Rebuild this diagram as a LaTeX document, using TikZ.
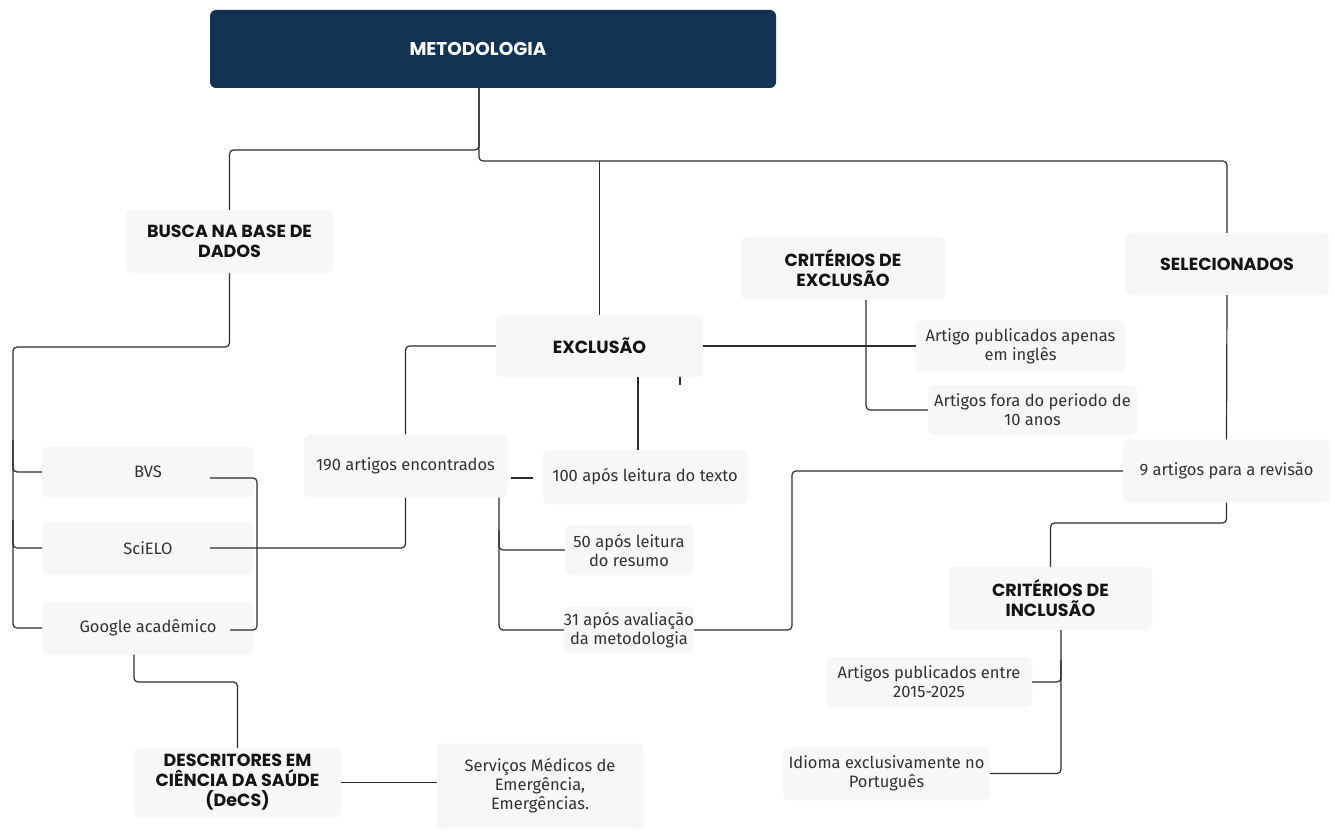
\documentclass[tikz,border=0pt]{standalone}
\usepackage{fontspec}
\newfontfamily\headfont{Poppins}
\newfontfamily\bodyfont{Fira Sans}
\definecolor{navy}{RGB}{17,50,82}
\definecolor{boxc}{RGB}{247,247,247}
\definecolor{linec}{RGB}{45,45,45}
\definecolor{headc}{RGB}{20,20,20}
\definecolor{bodyc}{RGB}{50,50,50}
\tikzset{
  conn/.style={draw=linec, line width=1.2pt, rounded corners=4pt},
  hbox/.style={fill=boxc, rounded corners=6pt, align=center, inner sep=0pt,
    font=\headfont\bfseries\fontsize{17.5}{20}\selectfont, text=headc},
  tbox/.style={fill=boxc, rounded corners=6pt, align=center, inner sep=0pt,
    font=\bodyfont\fontsize{16.5}{19}\selectfont, text=bodyc},
  sz/.style 2 args={minimum width=#1pt, minimum height=#2pt},
}
\begin{document}
\begin{tikzpicture}[x=1pt,y=-1pt]
\fill[white] (0,0) rectangle (1335,834);
\useasboundingbox (0,0) rectangle (1335,834);

% title
\node[fill=navy, rounded corners=6pt, sz={566}{78}] (meto) at (493,49) {};
\node[font=\headfont\bfseries\fontsize{18.5}{20}\selectfont, text=white] (metot) at (478,49) {METODOLOGIA};

% headings
\node[hbox, sz={207}{63}] (busca) at (229.5,241.5) {BUSCA NA BASE DE\\DADOS};
\node[hbox, sz={207}{62}] (exclusao) at (599.5,346) {EXCLUSÃO};
\node[hbox, sz={204}{63}] (critex) at (843,268.5) {CRITÉRIOS DE\\EXCLUSÃO};
\node[hbox, sz={204}{62}] (selec) at (1227,264) {SELECIONADOS};
\node[hbox, sz={203}{63}] (critin) at (1050.5,598.5) {CRITÉRIOS DE\\INCLUSÃO};
\node[hbox, sz={207}{69}] (decs) at (237.5,782.5) {DESCRITORES EM\\CIÊNCIA DA SAÚDE\\(DeCS)};

% text boxes
\node[tbox, sz={209}{52}] (apenas) at (1020.5,346) {Artigo publicados apenas\\em inglês};
\node[tbox, sz={209}{50}] (fora) at (1032.5,410) {Artigos fora do periodo de\\10 anos};
\node[tbox, sz={212}{50}] (bvs) at (148,472) {BVS};
\node[tbox, sz={212}{53}] (scielo) at (148,548) {SciELO};
\node[tbox, sz={212}{53}] (google) at (148,628) {Google acadêmico};
\node[tbox, sz={203}{63}] (a190) at (405.5,466) {190 artigos encontrados};
\node[tbox, sz={204}{54}] (a100) at (645,477) {100 após leitura do texto};
\node[tbox, sz={128}{50}] (a50) at (629,550) {50 após leitura\\do resumo};
\node[tbox, sz={128}{46}] (a31) at (629,630) {31 após avaliação\\da metodologia};
\node[tbox, sz={207}{63}] (a9) at (1226.5,471) {9 artigos para a revisão};
\node[tbox, sz={206}{50}] (entre) at (929,682) {Artigos publicados entre\\2015-2025};
\node[tbox, sz={207}{53}] (idioma) at (886.5,773.5) {Idioma exclusivamente no\\Português};
\node[tbox, sz={206}{85}] (serv) at (540,786) {Serviços Médicos de\\Emergência,\\Emergências.};

% helper coordinates
\coordinate (m0) at (479,88);
\coordinate (bvsr) at (210,478);
\coordinate (gor) at (230,630);
\coordinate (scr) at (210,548);
\coordinate (d1) at (511,478);
\coordinate (d2) at (533,478);

% connectors
\draw[conn] (m0) |- (busca.north |- 0,150) -- (busca.north);
\draw[conn] (m0) |- (selec.north |- 0,161) -- (selec.north);
\draw[conn] (exclusao.north |- 0,161) -- (exclusao.north);

\draw[conn] (busca.south) |- (13,347) |- (google.west);
\draw[conn] (13,440) |- (bvs.west);
\draw[conn] (13,520) |- (scielo.west);

\draw[conn] (bvsr) -| (257,630) -- (gor);
\draw[conn] (scr) -| (a190.south);
\draw[conn] (a190.north) |- (exclusao.west);

\draw[conn] (exclusao.east) -- (apenas.west);
\draw[conn] (critex.south -| 866,0) |- (fora.west);
\draw[conn] (exclusao.south -| 680,0) -- ++(0,8);
\draw[conn] (exclusao.south -| 638,0) -- (a100.north -| 638,0);
\draw[conn] (d1) -- (d2);

\draw[conn] (a190.south -| 499,0) |- (a31.west);
\draw[conn] (499,530) |- (a50.west);
\draw[conn] (a31.east) -| (792,520) |- (a9.west);

\draw[conn] (selec.south) -- (a9.north);
\draw[conn] (a9.south) |- (critin.north |- 0,523) -- (critin.north);
\draw[conn] (critin.south -| 1061,0) |- (idioma.east);
\draw[conn] (1061,660) |- (entre.east);

\draw[conn] (google.south -| 134,0) |- (decs.north |- 0,682) -- (decs.north);
\draw[conn] (decs.east) -- (decs.east -| serv.west);
\end{tikzpicture}
\end{document}
